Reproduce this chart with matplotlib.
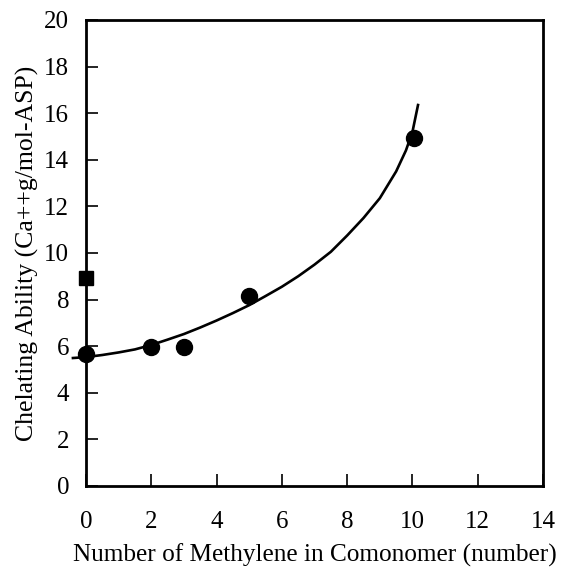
import numpy as np
import matplotlib
matplotlib.use("Agg")
import matplotlib.pyplot as plt

# measured data
methylene = [0, 2, 3, 5, 10.05]
chelating = [5.67, 5.98, 5.98, 8.17, 14.94]
square_x = [0]
square_y = [8.94]

# fitted curve
curve_x = [-0.4, 0, 0.5, 1.0, 1.5, 2.0, 2.5, 3.0, 3.5, 4.0, 4.5, 5.0, 5.5, 6.0,
           6.5, 7.0, 7.5, 8.0, 8.5, 9.0, 9.5, 9.8, 10.0, 10.17]
curve_y = [5.49, 5.53, 5.62, 5.73, 5.86, 6.05, 6.28, 6.52, 6.8, 7.1, 7.42, 7.76, 8.15, 8.55,
           9.0, 9.5, 10.05, 10.75, 11.5, 12.35, 13.5, 14.4, 15.2, 16.35]

plt.rcParams['font.family'] = ['Liberation Serif', 'DejaVu Serif']

fig = plt.figure(figsize=(5.61, 5.71), dpi=100)
ax = fig.add_axes([0.1533, 0.149, 0.8147, 0.816])

ax.plot(curve_x, curve_y, '-k', linewidth=1.9, clip_on=False)
ax.plot(methylene, chelating, 'o', color='k', markersize=11.5, clip_on=False, zorder=3)
ax.plot(square_x, square_y, 's', color='k', markersize=10.5, clip_on=False, zorder=3)

ax.set_xlim(0, 14)
ax.set_ylim(0, 20)
ax.set_xticks(np.arange(0, 15, 2))
ax.set_yticks(np.arange(0, 21, 2))

for s in ax.spines.values():
    s.set_linewidth(2.0)

ax.tick_params(axis='x', direction='in', length=8.6, width=1.2, pad=18, labelsize=18)
ax.tick_params(axis='y', direction='in', length=8.6, width=1.2, pad=12, labelsize=18)

ax.set_xlabel('Number of Methylene in Comonomer (number)', fontsize=18.2, labelpad=8)
ax.set_ylabel('Chelating Ability (Ca++g/mol-ASP)', fontsize=18.5, labelpad=4)

fig.savefig('out.png', dpi=100)
